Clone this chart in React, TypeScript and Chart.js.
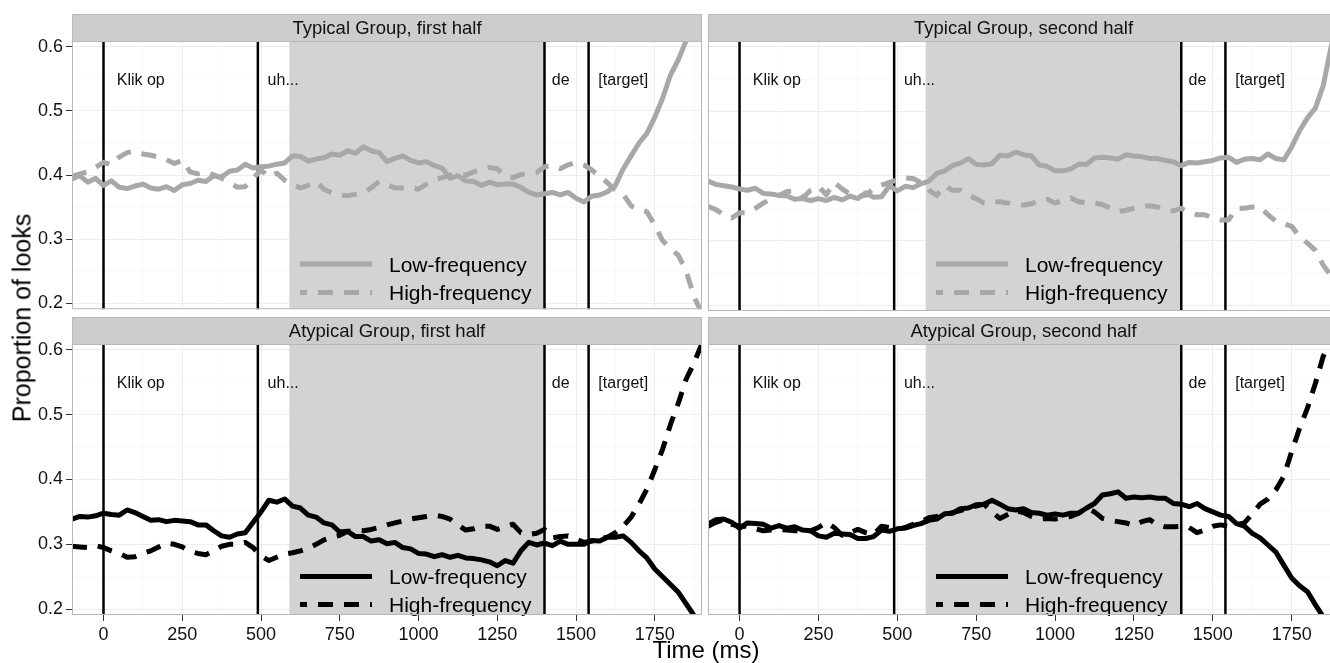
import React, { useEffect, useRef } from "react";
import { Chart, registerables } from "chart.js";

Chart.register(...registerables);

const FONT = '"Liberation Sans", Arial, Helvetica, sans-serif';

// ---- data ----
const TIME = [
  -100, -75, -50, -25, 0, 25, 50, 75, 100, 125,
  150, 175, 200, 225, 250, 275, 300, 325, 350, 375,
  400, 425, 450, 475, 500, 525, 550, 575, 600, 625,
  650, 675, 700, 725, 750, 775, 800, 825, 850, 875,
  900, 925, 950, 975, 1000, 1025, 1050, 1075, 1100, 1125,
  1150, 1175, 1200, 1225, 1250, 1275, 1300, 1325, 1350, 1375,
  1400, 1425, 1450, 1475, 1500, 1525, 1550, 1575, 1600, 1625,
  1650, 1675, 1700, 1725, 1750, 1775, 1800, 1825, 1850, 1875,
  1900,
];

const TYPICAL_FIRST_LOW = [
  0.394, 0.399, 0.389, 0.395, 0.384, 0.391, 0.381, 0.379, 0.383, 0.386,
  0.380, 0.378, 0.382, 0.376, 0.385, 0.387, 0.392, 0.390, 0.399, 0.397,
  0.406, 0.408, 0.417, 0.411, 0.413, 0.414, 0.417, 0.419, 0.430, 0.429,
  0.422, 0.425, 0.427, 0.433, 0.431, 0.438, 0.434, 0.444, 0.438, 0.435,
  0.421, 0.426, 0.430, 0.423, 0.419, 0.421, 0.415, 0.411, 0.395, 0.399,
  0.391, 0.390, 0.384, 0.389, 0.385, 0.386, 0.386, 0.381, 0.373, 0.369,
  0.371, 0.373, 0.369, 0.373, 0.364, 0.358, 0.367, 0.369, 0.374, 0.384,
  0.410, 0.430, 0.450, 0.465, 0.490, 0.520, 0.556, 0.580, 0.610, 0.640,
  0.680,
];
const TYPICAL_FIRST_HIGH = [
  0.398, 0.402, 0.405, 0.412, 0.420, 0.416, 0.428, 0.435, 0.437, 0.433,
  0.431, 0.428, 0.424, 0.418, 0.423, 0.405, 0.402, 0.405, 0.400, 0.395,
  0.389, 0.381, 0.382, 0.395, 0.408, 0.397, 0.403, 0.392, 0.385, 0.380,
  0.384, 0.390, 0.378, 0.372, 0.369, 0.368, 0.370, 0.372, 0.380, 0.390,
  0.385, 0.380, 0.380, 0.381, 0.378, 0.386, 0.393, 0.396, 0.400, 0.401,
  0.400, 0.405, 0.410, 0.412, 0.410, 0.398, 0.396, 0.401, 0.403, 0.404,
  0.413, 0.415, 0.410, 0.416, 0.420, 0.416, 0.408, 0.398, 0.388, 0.377,
  0.370, 0.352, 0.346, 0.343, 0.322, 0.298, 0.285, 0.275, 0.250, 0.210,
  0.185,
];
const TYPICAL_SECOND_LOW = [
  0.392, 0.387, 0.385, 0.383, 0.380, 0.378, 0.381, 0.373, 0.372, 0.370,
  0.369, 0.364, 0.365, 0.362, 0.365, 0.362, 0.367, 0.363, 0.369, 0.365,
  0.374, 0.367, 0.368, 0.385, 0.377, 0.384, 0.382, 0.388, 0.392, 0.404,
  0.408, 0.416, 0.420, 0.427, 0.418, 0.417, 0.419, 0.432, 0.431, 0.437,
  0.433, 0.431, 0.417, 0.415, 0.408, 0.408, 0.411, 0.418, 0.418, 0.428,
  0.429, 0.428, 0.426, 0.433, 0.431, 0.430, 0.427, 0.427, 0.424, 0.422,
  0.416, 0.421, 0.420, 0.422, 0.424, 0.428, 0.429, 0.421, 0.426, 0.427,
  0.425, 0.434, 0.427, 0.425, 0.445, 0.470, 0.490, 0.505, 0.540, 0.600,
  0.650,
];
const TYPICAL_SECOND_HIGH = [
  0.353, 0.348, 0.340, 0.335, 0.343, 0.343, 0.350, 0.358, 0.365, 0.370,
  0.376, 0.377, 0.366, 0.378, 0.384, 0.371, 0.390, 0.380, 0.372, 0.368,
  0.370, 0.381, 0.386, 0.390, 0.394, 0.397, 0.396, 0.390, 0.378, 0.370,
  0.385, 0.378, 0.378, 0.370, 0.365, 0.358, 0.360, 0.360, 0.358, 0.357,
  0.355, 0.357, 0.362, 0.364, 0.358, 0.362, 0.366, 0.360, 0.358, 0.358,
  0.356, 0.350, 0.345, 0.347, 0.350, 0.353, 0.354, 0.352, 0.347, 0.346,
  0.350, 0.343, 0.340, 0.340, 0.335, 0.332, 0.332, 0.350, 0.350, 0.352,
  0.352, 0.340, 0.330, 0.326, 0.322, 0.306, 0.296, 0.285, 0.262, 0.245,
  0.230,
];
const ATYPICAL_FIRST_LOW = [
  0.339, 0.343, 0.342, 0.344, 0.348, 0.346, 0.345, 0.353, 0.349, 0.343,
  0.337, 0.338, 0.335, 0.337, 0.336, 0.335, 0.330, 0.330, 0.321, 0.313,
  0.311, 0.316, 0.318, 0.334, 0.350, 0.368, 0.365, 0.370, 0.359, 0.356,
  0.345, 0.342, 0.333, 0.330, 0.319, 0.320, 0.312, 0.312, 0.305, 0.307,
  0.301, 0.303, 0.295, 0.293, 0.286, 0.285, 0.281, 0.284, 0.280, 0.283,
  0.279, 0.278, 0.276, 0.273, 0.267, 0.275, 0.271, 0.290, 0.303, 0.299,
  0.302, 0.298, 0.305, 0.300, 0.300, 0.300, 0.306, 0.305, 0.311, 0.311,
  0.313, 0.303, 0.290, 0.279, 0.262, 0.250, 0.238, 0.226, 0.208, 0.190,
  0.175,
];
const ATYPICAL_FIRST_HIGH = [
  0.297, 0.296, 0.295, 0.298, 0.295, 0.290, 0.286, 0.280, 0.281, 0.286,
  0.290, 0.296, 0.302, 0.300, 0.296, 0.289, 0.286, 0.284, 0.290, 0.297,
  0.300, 0.300, 0.303, 0.295, 0.282, 0.275, 0.280, 0.285, 0.287, 0.290,
  0.294, 0.300, 0.307, 0.311, 0.314, 0.320, 0.322, 0.321, 0.323, 0.326,
  0.330, 0.333, 0.336, 0.339, 0.341, 0.343, 0.345, 0.343, 0.339, 0.330,
  0.322, 0.324, 0.328, 0.328, 0.323, 0.327, 0.331, 0.318, 0.315, 0.317,
  0.323, 0.310, 0.312, 0.313, 0.308, 0.303, 0.305, 0.308, 0.311, 0.318,
  0.328, 0.342, 0.362, 0.385, 0.415, 0.447, 0.485, 0.518, 0.555, 0.580,
  0.610,
];
const ATYPICAL_SECOND_LOW = [
  0.331, 0.338, 0.339, 0.334, 0.325, 0.333, 0.332, 0.331, 0.325, 0.329,
  0.325, 0.327, 0.322, 0.321, 0.313, 0.311, 0.317, 0.316, 0.315, 0.309,
  0.309, 0.312, 0.322, 0.320, 0.324, 0.325, 0.329, 0.332, 0.337, 0.339,
  0.347, 0.348, 0.355, 0.356, 0.361, 0.362, 0.368, 0.362, 0.355, 0.353,
  0.355, 0.349, 0.348, 0.345, 0.347, 0.345, 0.348, 0.348, 0.356, 0.363,
  0.376, 0.378, 0.381, 0.371, 0.373, 0.372, 0.373, 0.371, 0.371, 0.363,
  0.362, 0.358, 0.363, 0.355, 0.350, 0.345, 0.343, 0.332, 0.328, 0.317,
  0.310, 0.299, 0.288, 0.268, 0.248, 0.236, 0.227, 0.207, 0.188, 0.175,
  0.165,
];
const ATYPICAL_SECOND_HIGH = [
  0.328, 0.334, 0.338, 0.331, 0.328, 0.328, 0.324, 0.321, 0.322, 0.323,
  0.322, 0.321, 0.321, 0.321, 0.326, 0.334, 0.326, 0.314, 0.318, 0.323,
  0.318, 0.315, 0.328, 0.326, 0.323, 0.326, 0.331, 0.335, 0.341, 0.343,
  0.346, 0.349, 0.352, 0.356, 0.359, 0.362, 0.350, 0.340, 0.346, 0.352,
  0.349, 0.343, 0.339, 0.340, 0.339, 0.341, 0.343, 0.348, 0.356, 0.350,
  0.340, 0.337, 0.335, 0.333, 0.329, 0.335, 0.338, 0.330, 0.327, 0.327,
  0.328, 0.326, 0.318, 0.322, 0.328, 0.330, 0.328, 0.330, 0.333, 0.347,
  0.362, 0.370, 0.384, 0.405, 0.443, 0.479, 0.510, 0.548, 0.590, 0.615,
  0.640,
];

const STRIP_TITLES = [
  "Typical Group, first half",
  "Typical Group, second half",
  "Atypical Group, first half",
  "Atypical Group, second half",
];
const LEGEND_LABELS = ["Low-frequency", "High-frequency"];
const EVENT_TIMES = [0, 490, 1400, 1540];
const EVENT_LABELS = ["Klik op", "uh...", "de", "[target]"];
const EVENT_LABEL_TIMES = [42, 521, 1423, 1571];
const EVENT_LABEL_Y = 0.55;
const SHADE_RANGE = [590, 1400];
const X_RANGE = [-100, 1900];
const Y_RANGE = [0.191, 0.609];
const X_MAJOR = [0, 250, 500, 750, 1000, 1250, 1500, 1750];
const X_MINOR = [125, 375, 625, 875, 1125, 1375, 1625, 1875];
const Y_MAJOR = [0.2, 0.3, 0.4, 0.5, 0.6];
const Y_MINOR = [0.25, 0.35, 0.45, 0.55];
const X_TITLE = "Time (ms)";
const Y_TITLE = "Proportion of looks";

// ---- styles ----
const GRAY = "#A8A8A8";
const BLACK = "#000000";
const SHADE_FILL = "#D3D3D3";
const STRIP_FILL = "#CDCDCD";
const BORDER = "#B8B8B8";
const GRID_MAJOR = "#EDEDED";
const GRID_MINOR = "#F6F6F6";
const TEXT = "#111111";
const STRIP_H = 27;

type Spec = {
  title: string;
  low: number[];
  high: number[];
  color: string;
  left: number;
  top: number;
  width: number;
  height: number;
  padL: number;
  padR: number;
  padT: number;
  padB: number;
  yAxisW: number;
  xAxisH: number;
  showY: boolean;
  showX: boolean;
  legendOffsets: number[];
};

const SPECS: Spec[] = [
  { title: STRIP_TITLES[0], low: TYPICAL_FIRST_LOW, high: TYPICAL_FIRST_HIGH, color: GRAY,
    left: 0, top: 14, width: 705, height: 309, padL: 0, padR: 3, padT: STRIP_H, padB: 12,
    yAxisW: 72, xAxisH: 0, showY: true, showX: false, legendOffsets: [223, 251.5] },
  { title: STRIP_TITLES[1], low: TYPICAL_SECOND_LOW, high: TYPICAL_SECOND_HIGH, color: GRAY,
    left: 706, top: 14, width: 636, height: 309, padL: 2, padR: 3, padT: STRIP_H, padB: 12,
    yAxisW: 0, xAxisH: 0, showY: false, showX: false, legendOffsets: [223, 251.5] },
  { title: STRIP_TITLES[2], low: ATYPICAL_FIRST_LOW, high: ATYPICAL_FIRST_HIGH, color: BLACK,
    left: 0, top: 317, width: 705, height: 338, padL: 0, padR: 3, padT: STRIP_H, padB: 0,
    yAxisW: 72, xAxisH: 40, showY: true, showX: true, legendOffsets: [232.5, 260.5] },
  { title: STRIP_TITLES[3], low: ATYPICAL_SECOND_LOW, high: ATYPICAL_SECOND_HIGH, color: BLACK,
    left: 706, top: 317, width: 636, height: 338, padL: 2, padR: 3, padT: STRIP_H, padB: 0,
    yAxisW: 0, xAxisH: 40, showY: false, showX: true, legendOffsets: [232.5, 260.5] },
];

const near = (a: number, list: number[]) => list.some((v) => Math.abs(v - a) < 1e-6);

function makeDecor(spec: Spec) {
  return {
    id: "decor",
    beforeDraw(chart: any) {
      const { ctx, chartArea: ca } = chart;
      const w = ca.right - ca.left;
      ctx.save();
      ctx.fillStyle = "#FFFFFF";
      ctx.fillRect(ca.left, ca.top, w, ca.bottom - ca.top);
      ctx.fillStyle = STRIP_FILL;
      ctx.fillRect(ca.left, ca.top - STRIP_H, w, STRIP_H);
      ctx.strokeStyle = BORDER;
      ctx.lineWidth = 1;
      ctx.strokeRect(ca.left + 0.5, ca.top - STRIP_H + 0.5, w - 1, STRIP_H);
      ctx.fillStyle = TEXT;
      ctx.font = `18.5px ${FONT}`;
      ctx.textAlign = "center";
      ctx.textBaseline = "alphabetic";
      ctx.fillText(spec.title, (ca.left + ca.right) / 2, ca.top - STRIP_H / 2 + 6.5);
      ctx.restore();
    },
    beforeDatasetsDraw(chart: any) {
      const { ctx, chartArea: ca, scales } = chart;
      const xs = scales.x;
      ctx.save();
      const x0 = xs.getPixelForValue(SHADE_RANGE[0]);
      const x1 = xs.getPixelForValue(SHADE_RANGE[1]);
      ctx.fillStyle = SHADE_FILL;
      ctx.fillRect(x0, ca.top, x1 - x0, ca.bottom - ca.top);
      ctx.strokeStyle = "#000";
      ctx.lineWidth = 2.5;
      EVENT_TIMES.forEach((t) => {
        const x = xs.getPixelForValue(t);
        ctx.beginPath();
        ctx.moveTo(x, ca.top);
        ctx.lineTo(x, ca.bottom);
        ctx.stroke();
      });
      ctx.restore();
    },
    afterDatasetsDraw(chart: any) {
      const { ctx, chartArea: ca, scales } = chart;
      const xs = scales.x;
      const ys = scales.y;
      ctx.save();
      ctx.fillStyle = TEXT;
      ctx.font = `16px ${FONT}`;
      ctx.textAlign = "left";
      ctx.textBaseline = "alphabetic";
      const ly = ys.getPixelForValue(EVENT_LABEL_Y) + 5.7;
      EVENT_LABELS.forEach((lab, i) => {
        ctx.fillText(lab, xs.getPixelForValue(EVENT_LABEL_TIMES[i]), ly);
      });
      const lx0 = ca.left + 228;
      const lx1 = ca.left + 300;
      const y0 = ca.top + spec.legendOffsets[0];
      const y1 = ca.top + spec.legendOffsets[1];
      ctx.strokeStyle = spec.color;
      ctx.lineWidth = 5;
      ctx.lineCap = "butt";
      ctx.beginPath();
      ctx.moveTo(lx0, y0);
      ctx.lineTo(lx1, y0);
      ctx.stroke();
      ctx.setLineDash([15, 11]);
      ctx.lineDashOffset = 8;
      ctx.beginPath();
      ctx.moveTo(lx0, y1);
      ctx.lineTo(lx1, y1);
      ctx.stroke();
      ctx.setLineDash([]);
      ctx.fillStyle = "#000";
      ctx.font = `21px ${FONT}`;
      ctx.fillText(LEGEND_LABELS[0], ca.left + 317, y0 + 7.5);
      ctx.fillText(LEGEND_LABELS[1], ca.left + 317, y1 + 7.5);
      ctx.strokeStyle = BORDER;
      ctx.lineWidth = 1;
      ctx.strokeRect(ca.left + 0.5, ca.top + 0.5, ca.right - ca.left - 1, ca.bottom - ca.top - 1);
      ctx.restore();
    },
  };
}

function Panel({ spec }: { spec: Spec }) {
  const ref = useRef<HTMLCanvasElement>(null);
  useEffect(() => {
    if (!ref.current) return;
    const mk = (vals: number[]) => TIME.map((t, i) => ({ x: t, y: vals[i] }));
    const common = {
      borderColor: spec.color,
      borderWidth: 5,
      pointRadius: 0,
      tension: 0,
      fill: false,
      borderJoinStyle: "round",
      borderCapStyle: "butt",
      clip: 0,
    };
    const chart = new Chart(ref.current, {
      type: "line",
      data: {
        datasets: [
          { ...common, label: LEGEND_LABELS[0], data: mk(spec.low) },
          { ...common, label: LEGEND_LABELS[1], data: mk(spec.high), borderDash: [15, 11] },
        ],
      },
      options: {
        responsive: false,
        animation: false,
        events: [],
        layout: { padding: { left: spec.padL, right: spec.padR, top: spec.padT, bottom: spec.padB } },
        plugins: {
          legend: { display: false },
          tooltip: { enabled: false },
          title: { display: false },
        },
        scales: {
          x: {
            type: "linear",
            min: X_RANGE[0],
            max: X_RANGE[1],
            afterBuildTicks: (s: any) => {
              s.ticks = [...X_MAJOR, ...X_MINOR].sort((a, b) => a - b).map((v) => ({ value: v }));
            },
            afterFit: (s: any) => {
              s.height = spec.xAxisH;
            },
            border: { display: false },
            grid: {
              color: (c: any) => (c.tick && near(c.tick.value, X_MINOR) ? GRID_MINOR : GRID_MAJOR),
              lineWidth: (c: any) => (c.tick && near(c.tick.value, X_MINOR) ? 0.7 : 1),
              drawTicks: spec.showX,
              tickLength: 6,
              tickColor: (c: any) => (c.tick && near(c.tick.value, X_MINOR) ? "rgba(0,0,0,0)" : "#333333"),
            },
            ticks: {
              display: spec.showX,
              autoSkip: false,
              maxRotation: 0,
              padding: 3,
              color: TEXT,
              font: { family: FONT, size: 18 },
              callback: (v: any) => (near(Number(v), X_MAJOR) ? String(v) : ""),
            },
          },
          y: {
            type: "linear",
            min: Y_RANGE[0],
            max: Y_RANGE[1],
            afterBuildTicks: (s: any) => {
              s.ticks = [...Y_MAJOR, ...Y_MINOR].sort((a, b) => a - b).map((v) => ({ value: v }));
            },
            afterFit: (s: any) => {
              s.width = spec.yAxisW;
            },
            border: { display: false },
            grid: {
              color: (c: any) => (c.tick && near(c.tick.value, Y_MINOR) ? GRID_MINOR : GRID_MAJOR),
              lineWidth: (c: any) => (c.tick && near(c.tick.value, Y_MINOR) ? 0.7 : 1),
              drawTicks: spec.showY,
              tickLength: 6,
              tickColor: (c: any) => (c.tick && near(c.tick.value, Y_MINOR) ? "rgba(0,0,0,0)" : "#333333"),
            },
            ticks: {
              display: spec.showY,
              autoSkip: false,
              padding: 3,
              color: TEXT,
              font: { family: FONT, size: 18 },
              callback: (v: any) => (near(Number(v), Y_MAJOR) ? Number(v).toFixed(1) : ""),
            },
          },
        },
      },
      plugins: [makeDecor(spec)],
    } as any);
    return () => chart.destroy();
  }, [spec]);
  return (
    <canvas
      ref={ref}
      width={spec.width}
      height={spec.height}
      style={{ position: "absolute", left: spec.left, top: spec.top, width: spec.width, height: spec.height }}
    />
  );
}

export default function App() {
  return (
    <div
      style={{
        position: "fixed",
        left: 0,
        top: 0,
        width: 1330,
        height: 663,
        overflow: "hidden",
        background: "#FFFFFF",
        fontFamily: FONT,
      }}
    >
      {SPECS.map((s, i) => (
        <Panel key={i} spec={s} />
      ))}
      <div
        style={{
          position: "absolute",
          left: 22,
          top: 318,
          transform: "translate(-50%, -50%) rotate(-90deg)",
          whiteSpace: "nowrap",
          fontSize: 25,
          color: "#000",
          lineHeight: 1,
        }}
      >
        {Y_TITLE}
      </div>
      <div
        style={{
          position: "absolute",
          left: 706,
          top: 650,
          transform: "translate(-50%, -50%)",
          whiteSpace: "nowrap",
          fontSize: 24,
          color: "#000",
          lineHeight: 1,
        }}
      >
        {X_TITLE}
      </div>
    </div>
  );
}
